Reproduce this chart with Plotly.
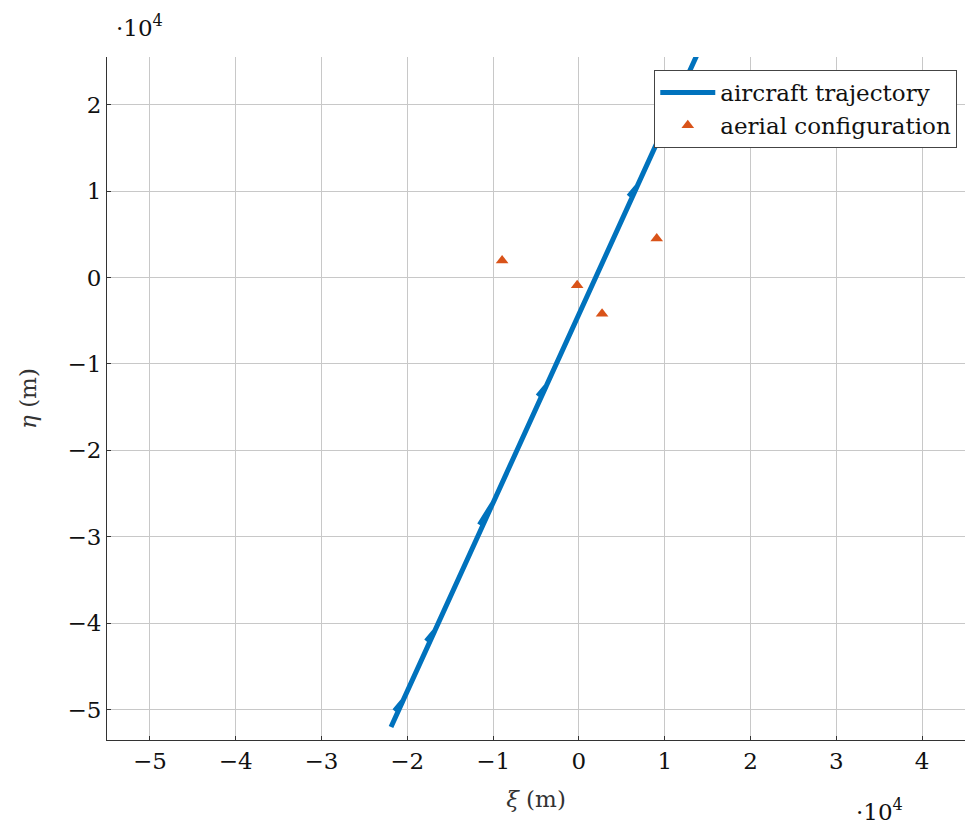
import plotly.graph_objects as go

# aircraft trajectory (m)
traj_xi = [-21900, -20500, -21500, -20500, -16800, -17800, -16800, -10000, -11600, -10000,
           -3800, -4800, -3800, 6800, 5800, 6800, 14500]
traj_eta = [-52000, -48950, -50130, -48950, -40880, -42060, -40880, -26060, -28600, -26060,
            -12540, -13720, -12540, 10560, 9380, 10560, 27350]

# aerial configuration (m)
aerial_xi = [-8950, -200, 2700, 9070]
aerial_eta = [1960, -900, -4200, 4500]

x_ticks = [-5, -4, -3, -2, -1, 0, 1, 2, 3, 4]
y_ticks = [-5, -4, -3, -2, -1, 0, 1, 2]

FONT = "DejaVu Serif"
FS = 23

fig = go.Figure()
fig.add_trace(go.Scatter(x=traj_xi, y=traj_eta, mode="lines", name="aircraft trajectory",
                         line=dict(color="#0072BD", width=5)))
fig.add_trace(go.Scatter(x=aerial_xi, y=aerial_eta, mode="markers", name="aerial configuration",
                         marker=dict(symbol="triangle-up", color="#D95319", size=11)))

def lab(v):
    return ("\u2212" + str(-v)) if v < 0 else str(v)

fig.update_xaxes(range=[-55000, 45000], tickvals=[v * 1e4 for v in x_ticks],
                 ticktext=[lab(v) for v in x_ticks],
                 showgrid=True, gridcolor="#c8c8c8", gridwidth=1,
                 showline=True, linecolor="#333333", linewidth=1,
                 ticks="inside", ticklen=4, tickcolor="#333333", zeroline=False,
                 title=dict(text="<i>\u03be</i> (m)", font=dict(family=FONT, size=FS, color="#333"), standoff=18),
                 tickfont=dict(family=FONT, size=FS, color="#111"))
fig.update_yaxes(range=[-53500, 25500], tickvals=[v * 1e4 for v in y_ticks],
                 ticktext=[lab(v) for v in y_ticks],
                 showgrid=True, gridcolor="#c8c8c8", gridwidth=1,
                 showline=True, linecolor="#333333", linewidth=1,
                 ticks="inside", ticklen=4, tickcolor="#333333", zeroline=False,
                 title=dict(text="<i>\u03b7</i> (m)", font=dict(family=FONT, size=FS, color="#333"), standoff=24),
                 tickfont=dict(family=FONT, size=FS, color="#111"))

fig.add_annotation(text="\u00b710<sup>4</sup>", xref="paper", yref="paper", x=0.008, y=1.0,
                   xanchor="left", yanchor="bottom", yshift=14, showarrow=False,
                   font=dict(family=FONT, size=FS, color="#111"))
fig.add_annotation(text="\u00b710<sup>4</sup>", xref="paper", yref="paper", x=0.93, y=0,
                   xanchor="right", yanchor="top", yshift=-53, showarrow=False,
                   font=dict(family=FONT, size=FS, color="#111"))

fig.update_layout(width=966, height=825, margin=dict(l=107, r=1, t=57, b=85),
                  plot_bgcolor="white", paper_bgcolor="white",
                  font=dict(family=FONT),
                  legend=dict(x=0.991, y=0.981, xanchor="right", yanchor="top",
                              bgcolor="white", bordercolor="#444", borderwidth=1,
                              font=dict(family=FONT, size=FS, color="#111"),
                              itemwidth=55, tracegroupgap=0),
                  showlegend=True)

fig.write_html("out.html")
